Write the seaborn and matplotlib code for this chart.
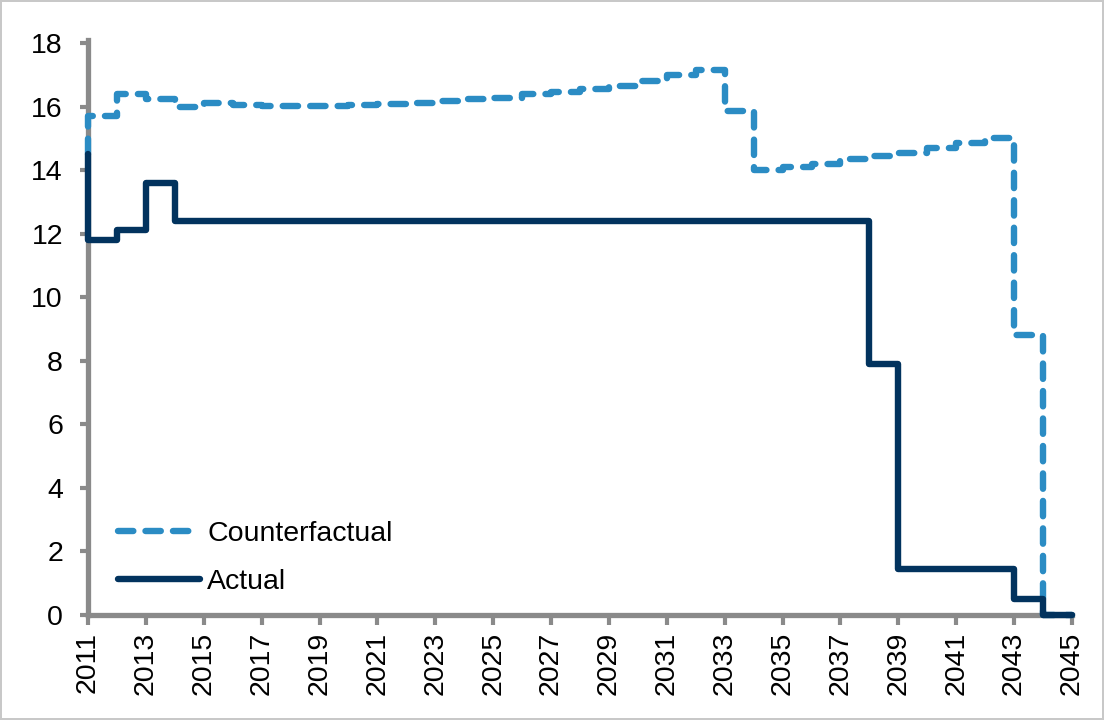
import numpy as np
import pandas as pd
import seaborn as sns
import matplotlib.pyplot as plt

# yearly values, each held from that year to the next (step chart)
years = list(range(2011, 2046))
start_value = 14.5
actual = [11.8, 12.1, 13.6] + [12.4] * 24 + [7.9] + [1.45] * 4 + [0.5, 0.0]
counterfactual = [15.7, 16.4, 16.25, 16.0, 16.1, 16.05, 16.03, 16.03, 16.03,
                  16.05, 16.08, 16.12, 16.18, 16.24, 16.28, 16.38, 16.46,
                  16.55, 16.65, 16.8, 17.0, 17.15, 15.85, 14.0, 14.1, 14.2,
                  14.35, 14.45, 14.55, 14.7, 14.85, 15.0, 8.8, 0.0]
labels = ['Counterfactual', 'Actual']

# start point at 2011, then the steps (last value repeated at 2045 to close the step)
df = pd.DataFrame({
    'year': [years[0]] + years,
    'Actual': [start_value] + actual + [actual[-1]],
    'Counterfactual': [start_value] + counterfactual + [counterfactual[-1]],
})

sns.set_style('white')
plt.rcParams['font.family'] = ['Liberation Sans', 'DejaVu Sans']
plt.rcParams['text.color'] = 'black'
plt.rcParams['xtick.labelcolor'] = 'black'
plt.rcParams['ytick.labelcolor'] = 'black'

fig = plt.figure(figsize=(11.04, 7.2), dpi=100)
fig.patch.set_edgecolor('#c8c8c8')
fig.patch.set_linewidth(1.5)
ax = fig.add_axes([88 / 1104, 1 - 615 / 720, 984 / 1104, 572 / 720])

sns.lineplot(data=df, x='year', y='Counterfactual', ax=ax, estimator=None, sort=False,
             drawstyle='steps-post', color='#2b8cc4', linewidth=4.6,
             linestyle=(0, (2.4, 1.9)), dash_capstyle='round',
             label=labels[0], clip_on=False, zorder=5)
sns.lineplot(data=df, x='year', y='Actual', ax=ax, estimator=None, sort=False,
             drawstyle='steps-post', color='#02335e', linewidth=4.6,
             label=labels[1], clip_on=False, zorder=6)

ax.set_xlim(2011, 2045)
ax.set_ylim(0, 18)
ax.set_xticks(np.arange(2011, 2046, 2))
ax.set_yticks(np.arange(0, 19, 2))
ax.set_xlabel('')
ax.set_ylabel('')

for side in ['top', 'right']:
    ax.spines[side].set_visible(False)
for side in ['left', 'bottom']:
    ax.spines[side].set_color('#8a8a8a')
    ax.spines[side].set_linewidth(3.8)
ax.spines['left'].set_bounds(0, 18.1)

ax.tick_params(axis='x', which='major', direction='out', length=7, width=3,
               color='#8a8a8a', labelsize=20.5, rotation=90, pad=5,
               bottom=True)
ax.tick_params(axis='y', which='major', direction='out', length=6, width=3,
               color='#8a8a8a', labelsize=20.5, pad=12, left=True)

ax.legend(loc='lower left', bbox_to_anchor=(0.03, 0.035), frameon=False,
          fontsize=20.5, handlelength=2.9, handletextpad=0.25, labelspacing=0.78,
          borderpad=0, borderaxespad=0)

fig.savefig('out.png', dpi=100, edgecolor=fig.get_edgecolor())
